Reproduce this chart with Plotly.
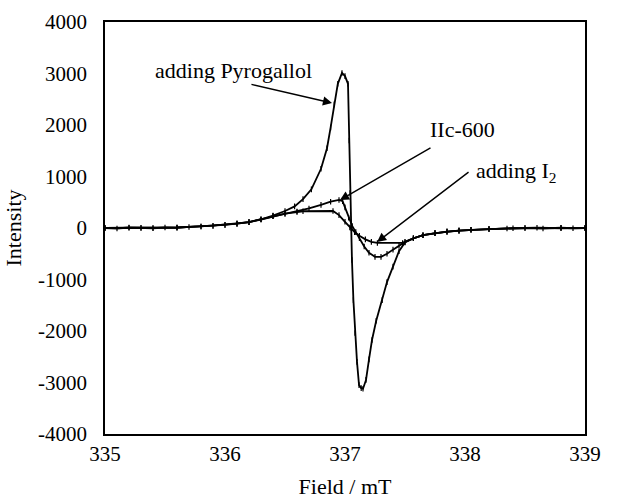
import plotly.graph_objects as go

# ---- data ----
field_pyro = [335.00, 335.10, 335.20, 335.30, 335.40, 335.50, 335.60, 335.70, 335.80, 335.90,
              336.00, 336.10, 336.20, 336.30, 336.40, 336.50, 336.58, 336.65, 336.72, 336.80,
              336.85, 336.88, 336.91, 336.94, 336.975, 337.00, 337.025, 337.035, 337.042, 337.05,
              337.058, 337.07, 337.083, 337.10, 337.117, 337.135, 337.15, 337.175, 337.20, 337.225,
              337.26, 337.31, 337.35, 337.40, 337.45, 337.50, 337.57, 337.65, 337.75, 337.85,
              337.95, 338.05, 338.20, 338.35, 338.50, 338.65, 338.80, 338.90, 339.00]
int_pyro = [0, -10, 10, 0, -5, 10, 5, 20, 30, 40,
            60, 85, 115, 170, 240, 330, 420, 560, 750, 1150,
            1550, 1950, 2400, 2800, 3010, 2950, 2800, 1700, 680, 0,
            -620, -1400, -2040, -2600, -3050, -3110, -3120, -2950, -2550, -2175,
            -1800, -1400, -1050, -750, -450, -280, -200, -140, -100, -70,
            -50, -35, -20, -10, 0, -10, 5, -5, 0]

field_iic = [335.00, 335.20, 335.40, 335.60, 335.80, 336.00, 336.10, 336.20, 336.30, 336.40,
             336.50, 336.60, 336.70, 336.80, 336.88, 336.95, 336.98, 337.00, 337.03, 337.06,
             337.09, 337.12, 337.16, 337.20, 337.25, 337.30, 337.35, 337.40, 337.45, 337.50,
             337.57, 337.65, 337.75, 337.85, 337.95, 338.05, 338.20, 338.40, 338.60, 338.80, 339.00]
int_iic = [0, 5, 0, 10, 30, 60, 85, 115, 165, 230,
           280, 320, 380, 450, 510, 545, 520, 400, 200, 40,
           -80, -200, -360, -480, -560, -560, -500, -420, -340, -270,
           -200, -140, -100, -70, -50, -35, -20, -5, 5, -5, 0]

field_i2 = [335.00, 335.30, 335.60, 335.90, 336.10, 336.20, 336.30, 336.40, 336.50, 336.60,
            336.65, 336.90, 336.95, 337.00, 337.04, 337.08, 337.12, 337.17, 337.22, 337.27,
            337.48, 337.57, 337.65, 337.75, 337.85, 337.95, 338.05, 338.20, 338.50, 338.80, 339.00]
int_i2 = [0, 5, 10, 45, 85, 115, 165, 230, 280, 310,
          325, 330, 250, 120, 10, -80, -150, -220, -270, -290,
          -290, -200, -140, -100, -70, -50, -35, -20, 0, 5, 0]

x_ticks = [335, 336, 337, 338, 339]
y_ticks = [4000, 3000, 2000, 1000, 0, -1000, -2000, -3000, -4000]
y_ticktext = ["4000", "3000", "2000", "1000", "0", "-1000", "-2000", "-3000", "-4000"]

# annotation anchors (field, intensity)
labels = [
    # text, text_x, text_y, head_x, head_y, tail_x, tail_y
    ("adding Pyrogallol", 336.067, 3068, 336.892, 2427, 336.208, 2796),
    ("IIc-600", 337.975, 1922, 336.958, 544, 337.725, 1573),
    ("adding I<sub>2</sub>", 338.425, 1087, 337.267, -272, 338.042, 1107),
]

FONT = "Liberation Serif"

fig = go.Figure()
for fx, iy in [(field_i2, int_i2), (field_iic, int_iic), (field_pyro, int_pyro)]:
    fig.add_trace(go.Scatter(
        x=fx, y=iy, mode="lines+markers",
        line=dict(color="black", width=1.8),
        marker=dict(symbol="line-ns", size=4, line=dict(color="black", width=1.2)),
        showlegend=False,
    ))

for text, tx, ty, hx, hy, ax_, ay_ in labels:
    fig.add_annotation(x=hx, y=hy, ax=ax_, ay=ay_, axref="x", ayref="y",
                       xref="x", yref="y", text="", showarrow=True,
                       arrowhead=2, arrowsize=1.3, arrowwidth=1.4, arrowcolor="black")
    fig.add_annotation(x=tx, y=ty, xref="x", yref="y", text=text, showarrow=False,
                       font=dict(family=FONT, size=22, color="black"),
                       xanchor="center", yanchor="middle")

axis_common = dict(showline=True, mirror=True, linecolor="black", linewidth=1.5,
                   showgrid=False, zeroline=False, ticks="", automargin=False,
                   tickfont=dict(family=FONT, size=21, color="black"))

fig.update_layout(
    width=619, height=499,
    font=dict(family=FONT, size=21, color="black"),
    margin=dict(l=105, r=34, t=22, b=65),
    paper_bgcolor="white", plot_bgcolor="white",
    xaxis=dict(range=[335, 339], tickvals=x_ticks, ticktext=[str(v) for v in x_ticks],
               title=dict(text="Field / mT", font=dict(family=FONT, size=22, color="black"),
                          standoff=17),
               ticklabelstandoff=0, **axis_common),
    yaxis=dict(range=[-4000, 4000], tickvals=y_ticks, ticktext=y_ticktext,
               title=dict(text="Intensity", font=dict(family=FONT, size=22, color="black"),
                          standoff=10),
               ticklabelstandoff=12, **axis_common),
)

fig.write_html("out.html", config={"displayModeBar": False},
               post_script="document.body.style.margin='0';")
